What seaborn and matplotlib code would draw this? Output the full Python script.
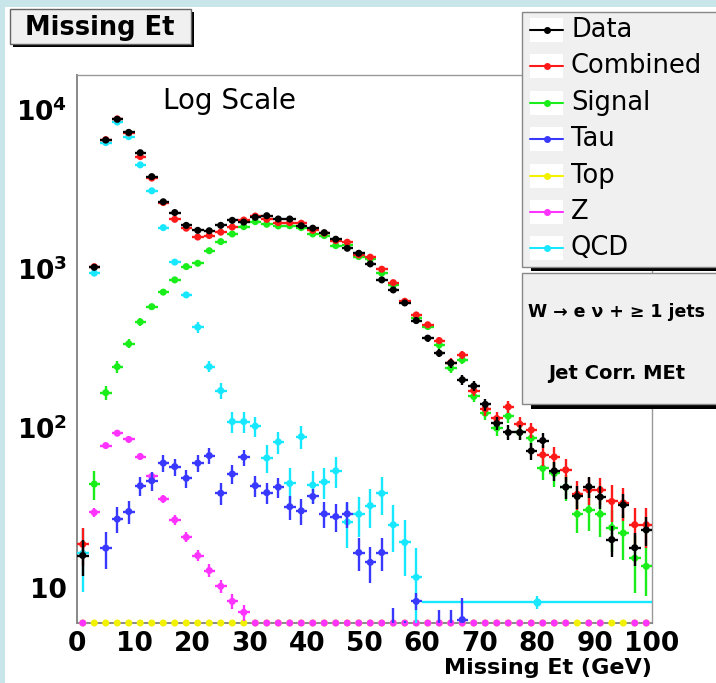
import numpy as np
import pandas as pd
import matplotlib
matplotlib.use("Agg")
import matplotlib.pyplot as plt
import seaborn as sns
from matplotlib.patches import Rectangle
from matplotlib.lines import Line2D
from matplotlib.ticker import MultipleLocator, LogLocator, NullFormatter

# ---- data (2 GeV bins, centres 1..99) ----
met_centers = list(range(1, 100, 2))

data_vals = [15.9, 1020, 6410, 8650, 7160, 5340, 3780, 2630, 2250, 1870,
             1740, 1730, 1870, 2010, 1960, 2100, 2150, 2050, 2050, 1860,
             1795, 1683, 1531, 1343, 1250, 1072, 851, 736, 610, 473,
             367, 295, 256, 201, 184, 141, 107, 94, 94, 72,
             83.6, 54, 42.7, 37.3, 43, 37, 20, 33, 17.8, 23]
data_errs = [4, 32, 80, 93, 85, 73, 61, 51, 47, 43,
             42, 42, 43, 45, 44, 46, 46, 45, 45, 43,
             42, 41, 39, 37, 35, 33, 29, 27, 25, 22,
             19, 17, 16, 14, 14, 12, 10, 10, 10, 8.5,
             9, 7.4, 6.5, 6.1, 6.5, 6.1, 4.5, 5.7, 4.2, 4.8]

comb_vals = [18.7, 1030, 6450, 8700, 7100, 5050, 3700, 2600, 2040, 1795,
             1580, 1615, 1695, 1825, 2020, 2140, 2040, 1946, 1946, 1928,
             1740, 1670, 1500, 1466, 1221, 1181, 993, 818, 625, 513,
             445, 354, 258, 288, 172, 132, 115, 136, 106, 97.5,
             68, 66, 54.8, 38.5, 41, 41, 34.7, 34, 24.8, 24.8]
comb_errs = [5, 30, 70, 80, 75, 65, 55, 45, 40, 38,
             36, 36, 37, 38, 40, 42, 41, 40, 40, 40,
             38, 37, 35, 35, 32, 32, 28, 26, 24, 22,
             20, 18, 16, 18, 14, 13, 12, 12, 11, 11,
             10, 10, 9, 8, 8, 8, 9, 8, 7, 7]

sig_vals = [0, 44.6, 167, 243, 338, 464, 578, 713, 851, 1031,
            1082, 1297, 1479, 1652, 1836, 1973, 1900, 1855, 1860, 1811,
            1652, 1614, 1397, 1409, 1192, 1148, 938, 791, 615, 490,
            434, 333, 238, 268, 158, 124, 100, 119, 94, 86.5,
            56, 52, 42.7, 28.9, 30.8, 28.9, 23.8, 22, 15.3, 13.6]
sig_errs = [0, 9, 17, 20, 22, 25, 27, 29, 31, 33,
            34, 36, 38, 40, 42, 43, 42, 42, 42, 41,
            39, 39, 36, 36, 33, 32, 29, 27, 24, 21,
            20, 18, 15, 16, 13, 12, 11, 11, 10, 10,
            9, 9, 8, 7, 8, 8, 7, 7, 6, 4.7]

tau_vals = [0, 0, 17.7, 26.9, 30, 43.5, 46.8, 60.4, 57.4, 48.5,
            60.4, 67.3, 39.1, 51.6, 65.8, 43.6, 39.4, 42.7, 32.2, 30.3,
            37.3, 29, 27.9, 29, 16.6, 14.4, 16.6, 1.5, 1, 8.2,
            0, 1.5, 1.5, 6.3, 0, 0, 0, 0, 0, 0,
            0, 0, 0, 0, 0, 0, 0, 0, 0, 0]
tau_errs = [0, 0, 4.6, 5, 5, 6, 6.5, 7, 7, 6.5,
            7, 7.5, 6, 7, 7.5, 6.5, 6, 6, 5.5, 5.5,
            4, 5.5, 5.5, 5.5, 3.8, 3.7, 3.8, 5.9, 5.2, 1,
            0, 5.7, 5.7, 2.3, 0, 0, 0, 0, 0, 0,
            0, 0, 0, 0, 0, 0, 0, 0, 0, 0]

top_vals = [0, 0, 0, 0, 0, 0, 0, 0, 0, 0,
            0, 0, 0, 0, 0, 0, 0, 0, 0, 0,
            0, 0, 0, 0, 0, 0, 0, 0, 0, 0,
            0, 0, 0, 0, 0, 0, 0, 0, 0, 0,
            0, 0, 0, 0, 0, 0, 0, 0, 0, 0]
top_errs = top_vals

z_vals = [0, 29.6, 77.8, 93, 85, 66.4, 49.8, 36, 26.6, 20.7,
          15.9, 12.8, 10.2, 8.2, 7.0, 0, 0, 0, 0, 0,
          0, 0, 0, 0, 0, 0, 0, 0, 0, 0,
          0, 0, 0, 0, 0, 0, 0, 0, 0, 0,
          0, 0, 0, 0.5, 0, 0, 0.5, 0.5, 0, 0]
z_errs = [0, 2, 3, 3.5, 3, 3, 2.5, 2, 1.8, 1.5,
          1.3, 1.2, 1, 0.9, 0.8, 0, 0, 0, 0, 0,
          0, 0, 0, 0, 0, 0, 0, 0, 0, 0,
          0, 0, 0, 0, 0, 0, 0, 0, 0, 0,
          0, 0, 0, 0, 0, 0, 0, 0, 0, 0]

qcd_vals = [16.4, 938, 6180, 8320, 6730, 4480, 3080, 1810, 1100, 685,
            430, 243, 172, 110, 110, 103, 65, 82, 45, 88.5,
            44, 46, 54, 25.8, 28.9, 32.7, 39, 24.8, 19.2, 11.6,
            0, 0, 0, 0, 0, 0, 0, 0, 0, 0,
            0, 0, 0, 0, 0, 0, 0, 0, 0, 0]
qcd_errs = [7, 30, 80, 90, 80, 70, 60, 45, 35, 25,
            35, 19, 20, 17, 17, 15, 13, 13, 11, 15,
            10, 10, 12, 8, 8, 9, 10.5, 8, 7.3, 6,
            0, 0, 0, 0, 0, 0, 0, 0, 0, 0,
            0, 0, 0, 0, 0, 0, 0, 0, 0, 0]
# QCD tail is one wide 60-100 GeV entry
qcd_tail_center = [80]
qcd_tail_half = [20]
qcd_tail_vals = [8.1]
qcd_tail_errs = [0.8]

series_names = ["Data", "Combined", "Signal", "Tau", "Top", "Z", "QCD"]
series_colors = ["#000000", "#ff1a1a", "#1aee1a", "#3838ff", "#f2f200", "#ff33ff", "#18e8ff"]

W, H = 716, 683
Y_LOW, Y_HIGH = 6.0, 16400


def fx(x):
    return x / W


def fy(y):
    return 1 - y / H


def draw_series(ax, vals, errs, color, z):
    df = pd.DataFrame({"met": met_centers, "n": vals, "err": errs})
    shown = df[df["n"] > 0]
    ax.errorbar(shown["met"], shown["n"], xerr=1.0, yerr=shown["err"], fmt="none",
                ecolor=color, elinewidth=1.7, capsize=0, zorder=z)
    sns.scatterplot(data=shown, x="met", y="n", color=color, s=26, edgecolor="none",
                    linewidth=0, ax=ax, zorder=z + 0.5, legend=False)


def draw_floor(ax, vals, color, z):
    # empty bins are drawn sitting on the axis, like ROOT does
    df = pd.DataFrame({"met": met_centers, "n": vals})
    empty = df[df["n"] == 0].assign(n=Y_LOW)
    sns.scatterplot(data=empty, x="met", y="n", color=color, s=26, edgecolor="none",
                    linewidth=0, ax=ax, zorder=z, legend=False)
    ax.collections[-1].set_clip_on(False)


sns.set_theme(style="white")
plt.rcParams["font.family"] = ["DejaVu Sans"]
plt.rcParams["mathtext.fontset"] = "dejavusans"
plt.rcParams["text.color"] = "black"
plt.rcParams["axes.labelcolor"] = "black"
plt.rcParams["xtick.color"] = "black"
plt.rcParams["ytick.color"] = "black"

fig = plt.figure(figsize=(W / 100, H / 100), dpi=100)
fig.patch.set_facecolor("#c8e6ea")
fig.add_artist(Rectangle((fx(5), 0), 1, fy(7), transform=fig.transFigure,
                         facecolor="white", edgecolor="none", zorder=-5))

ax = fig.add_axes([fx(77), fy(623), fx(652) - fx(77), fy(75) - fy(623)])
ax.set_facecolor("white")
ax.set_yscale("log", nonpositive="clip")
ax.set_xlim(0, 100)
ax.set_ylim(Y_LOW, Y_HIGH)

draw_floor(ax, top_vals, series_colors[4], 3)
draw_floor(ax, z_vals, series_colors[5], 3.2)

# QCD first, data last (on top)
draw_series(ax, qcd_vals, qcd_errs, series_colors[6], 4)
ax.errorbar(qcd_tail_center, qcd_tail_vals, xerr=qcd_tail_half, yerr=qcd_tail_errs,
            fmt="o", ms=4.8, color=series_colors[6], elinewidth=1.7, capsize=0, zorder=4)
draw_series(ax, z_vals, z_errs, series_colors[5], 5)
draw_series(ax, top_vals, top_errs, series_colors[4], 5)
draw_series(ax, tau_vals, tau_errs, series_colors[3], 6)
draw_series(ax, sig_vals, sig_errs, series_colors[2], 7)
draw_series(ax, comb_vals, comb_errs, series_colors[1], 8)
draw_series(ax, data_vals, data_errs, series_colors[0], 9)

# axes styling, ROOT-like
ax.set_xticks(list(range(0, 101, 10)), [str(v) for v in range(0, 101, 10)],
              fontsize=19, fontweight="bold", color="black")
ax.xaxis.set_minor_locator(MultipleLocator(2))
ax.set_yticks([10, 100, 1000, 10000],
              ["10", r"$\mathbf{10^{2}}$", r"$\mathbf{10^{3}}$", r"$\mathbf{10^{4}}$"],
              fontsize=19, fontweight="bold", color="black")
ax.yaxis.set_minor_locator(LogLocator(base=10, subs=np.arange(2, 10)))
ax.yaxis.set_minor_formatter(NullFormatter())
ax.tick_params(axis="both", which="major", direction="in", length=12, width=1.2,
               color="#888888", labelcolor="black")
ax.tick_params(axis="both", which="minor", direction="in", length=6, width=1.0,
               color="#888888")
ax.tick_params(axis="x", which="major", pad=6)
ax.tick_params(axis="y", which="major", pad=7)
for side in ["left", "bottom"]:
    ax.spines[side].set_color("#888888")
    ax.spines[side].set_linewidth(1.4)
for side in ["top", "right"]:
    ax.spines[side].set_color("#999999")
    ax.spines[side].set_linewidth(1.0)

ax.set_ylabel("")
ax.set_xlabel("Missing Et (GeV)", fontsize=16, fontweight="bold", ha="right", va="center",
              color="black")
ax.xaxis.set_label_coords(1.0, -45 / 548)

fig.text(fx(163), fy(101), "Log Scale", fontsize=20, ha="left", va="center",
         color="black", zorder=10)

# title box
fig.add_artist(Rectangle((fx(13), fy(47)), fx(181), fy(9) - fy(44), transform=fig.transFigure,
                         facecolor="black", edgecolor="none", zorder=10))
fig.add_artist(Rectangle((fx(10), fy(44)), fx(181), fy(9) - fy(44), transform=fig.transFigure,
                         facecolor="#f0f0f0", edgecolor="#666666", lw=1, zorder=11))
fig.text(fx(100), fy(28), "Missing Et", fontsize=18.5, fontweight="bold",
         ha="center", va="center", color="black", zorder=12)

# legend box
fig.add_artist(Rectangle((fx(531), fy(271)), fx(220), fy(16) - fy(271), transform=fig.transFigure,
                         facecolor="black", edgecolor="none", zorder=10))
fig.add_artist(Rectangle((fx(522), fy(267)), fx(220), fy(12) - fy(267), transform=fig.transFigure,
                         facecolor="#f0f0f0", edgecolor="#888888", lw=1, zorder=11))
entry_y = [30, 66, 103, 139, 176, 212, 248]
for name, color, yy in zip(series_names, series_colors, entry_y):
    fig.add_artist(Rectangle((fx(530), fy(yy + 12)), fx(33), fy(yy - 12) - fy(yy + 12),
                             transform=fig.transFigure, facecolor="white", edgecolor="none",
                             zorder=12))
    fig.add_artist(Line2D([fx(530), fx(563)], [fy(yy), fy(yy)], transform=fig.transFigure,
                          color=color, lw=1.5, zorder=13))
    fig.add_artist(Line2D([fx(546.5)], [fy(yy)], transform=fig.transFigure, color=color,
                          marker="o", ms=4, lw=0, zorder=14))
    fig.text(fx(571), fy(yy), name, fontsize=18.5, ha="left", va="center",
             color="black", zorder=13)

# process box
fig.add_artist(Rectangle((fx(531), fy(409)), fx(220), fy(277) - fy(409), transform=fig.transFigure,
                         facecolor="black", edgecolor="none", zorder=10))
fig.add_artist(Rectangle((fx(522), fy(404)), fx(220), fy(273) - fy(404), transform=fig.transFigure,
                         facecolor="#f0f0f0", edgecolor="#888888", lw=1, zorder=11))
fig.text(fx(617), fy(312), "W \u2192 e \u03bd + \u2265 1 jets", fontsize=12.5, fontweight="bold",
         ha="center", va="center", color="black", zorder=12)
fig.text(fx(617), fy(373), "Jet Corr. MEt", fontsize=14, fontweight="bold",
         ha="center", va="center", color="black", zorder=12)

fig.savefig("out.png", dpi=100, facecolor=fig.get_facecolor())
